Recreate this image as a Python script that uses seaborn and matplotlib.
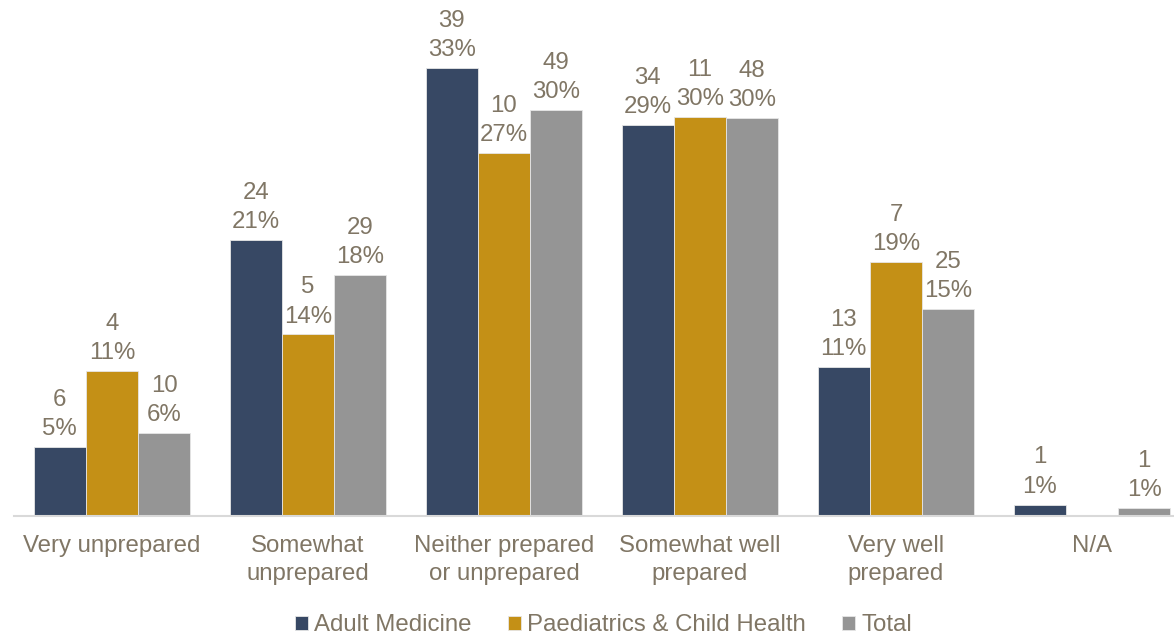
import numpy as np
import pandas as pd
import seaborn as sns
import matplotlib.pyplot as plt

# answer categories (x axis)
categories = ["Very unprepared", "Somewhat\nunprepared", "Neither prepared\nor unprepared",
              "Somewhat well\nprepared", "Very well\nprepared", "N/A"]
groups = ["Adult Medicine", "Paediatrics & Child Health", "Total"]

# counts shown in the labels
adult_n = [6, 24, 39, 34, 13, 1]
paed_n = [4, 5, 10, 11, 7, 0]
total_n = [10, 29, 49, 48, 25, 1]

# bar heights in percent
adult_pct = [5.1, 20.5, 33.3, 29.1, 11.1, 0.85]
paed_pct = [10.8, 13.5, 27.0, 29.7, 18.9, 0.0]
total_pct = [6.2, 17.9, 30.2, 29.6, 15.4, 0.6]

# rounded percent labels
adult_lbl = [5, 21, 33, 29, 11, 1]
paed_lbl = [11, 14, 27, 30, 19, 0]
total_lbl = [6, 18, 30, 30, 15, 1]

colors = ["#374864", "#C49016", "#959595"]
text_col = "#807665"

rows = []
for g, pcts in zip(groups, [adult_pct, paed_pct, total_pct]):
    for c, p in zip(categories, pcts):
        rows.append({"category": c, "group": g, "pct": p})
df = pd.DataFrame(rows)

sns.set_style("white")
plt.rcParams["font.family"] = ["Liberation Sans", "DejaVu Sans"]

fig = plt.figure(figsize=(11.74, 6.35), dpi=100)
ax = fig.add_axes([14 / 1174, 119 / 635, 1176 / 1174, 511 / 635])

sns.barplot(data=df, x="category", y="pct", hue="group", palette=colors,
            width=0.8, gap=0, saturation=1, ax=ax, legend=True,
            linewidth=0.6, edgecolor="#E6E6E6")

for cont, ns, ls in zip(ax.containers, [adult_n, paed_n, total_n],
                        [adult_lbl, paed_lbl, total_lbl]):
    labels = [f"{n}\n{l}%" if n > 0 else "" for n, l in zip(ns, ls)]
    ax.bar_label(cont, labels=labels, padding=5, fontsize=17.3, color=text_col,
                 linespacing=1.42)

ax.set_xlim(-0.5, 5.5)
ax.set_ylim(0, 38)
ax.set_xlabel("")
ax.set_ylabel("")
ax.set_yticks([])
for s in ["top", "right", "left"]:
    ax.spines[s].set_visible(False)
ax.spines["bottom"].set_color("#D9D9D9")
ax.spines["bottom"].set_linewidth(1.5)

ax.set_xticks(range(len(categories)))
ax.set_xticklabels(categories, fontsize=17.3, color=text_col, linespacing=1.32)
ax.tick_params(axis="x", which="major", length=0, pad=14)
ax.set_xticks(np.arange(-0.5, 6.0, 1.0), minor=True)
ax.tick_params(axis="x", which="minor", length=5, width=1.5, color="#D9D9D9",
               direction="out")

handles, labels = ax.get_legend_handles_labels()
ax.get_legend().remove()
leg = fig.legend(handles, labels, loc="center", bbox_to_anchor=(0.514, 0.015),
                 ncol=3, frameon=False, fontsize=17.3, handlelength=0.55,
                 handleheight=0.55, handletextpad=0.25, columnspacing=1.5)
for t in leg.get_texts():
    t.set_color(text_col)

fig.savefig("out.png", dpi=100)
